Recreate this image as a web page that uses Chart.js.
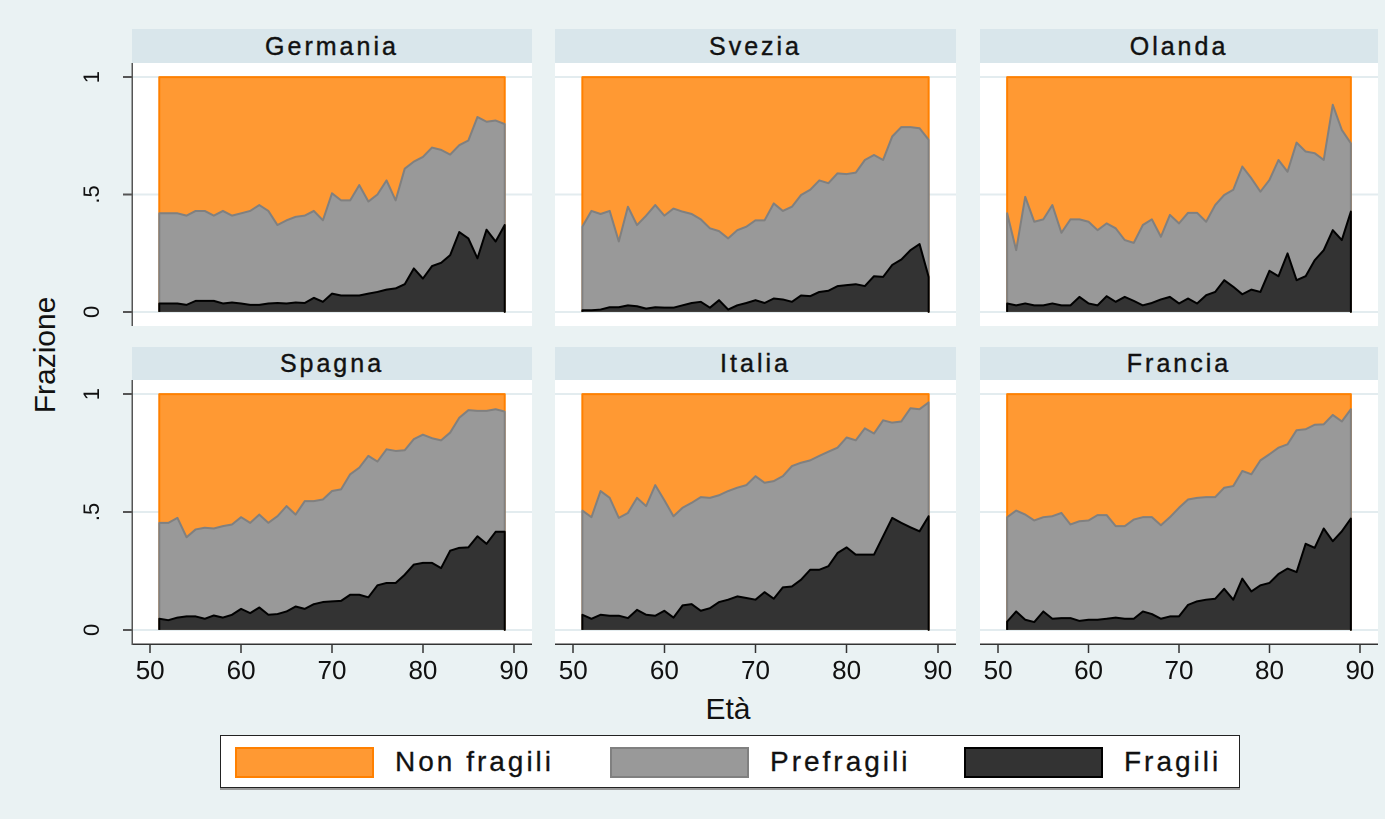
<!DOCTYPE html>
<html>
<head>
<meta charset="utf-8">
<script src="https://cdn.jsdelivr.net/npm/chart.js@4.4.1/dist/chart.umd.min.js"></script>
<style>
  body { margin: 0; background: #eaf2f3; font-family: "Liberation Sans", Arial, sans-serif; }
  #pagina { position: relative; width: 1385px; height: 819px; overflow: hidden; background: #eaf2f3; }
  .striscia { position: absolute; background: #d9e6eb; color: #111; font-size: 25px; letter-spacing: 3px;
              -webkit-text-stroke: 0.4px #111;
              display: flex; align-items: center; justify-content: center; }
  canvas { position: absolute; }
  #titoloY { position: absolute; left: 45px; top: 355px; font-size: 30px; color: #111;
             transform: translate(-50%, -50%) rotate(-90deg); white-space: nowrap; }
  #titoloX { position: absolute; left: 728px; top: 709px; font-size: 30px; color: #111;
             transform: translate(-50%, -50%); white-space: nowrap; }
  #legenda { position: absolute; left: 220px; top: 735px; width: 1020px; height: 53px; background: #fff;
             border: 1px solid #222; box-shadow: 0 2px 0 #999; box-sizing: border-box; }
  .voce { position: absolute; top: 10px; display: flex; align-items: center; }
  .campione { width: 139px; height: 31px; box-sizing: border-box; border: 2px solid; }
  .etichetta { margin-left: 21px; font-size: 28px; letter-spacing: 3px; color: #111; -webkit-text-stroke: 0.3px #111; }
</style>
</head>
<body>
<div id="pagina">
  <div id="titoloY">Frazione</div>
  <div id="titoloX">Età</div>
  <div id="legenda">
    <div class="voce" style="left:14px"><div class="campione" style="background:#ff9933;border-color:#ff8000"></div><span class="etichetta">Non fragili</span></div>
    <div class="voce" style="left:389px"><div class="campione" style="background:#999999;border-color:#808080"></div><span class="etichetta">Prefragili</span></div>
    <div class="voce" style="left:743px"><div class="campione" style="background:#333333;border-color:#000"></div><span class="etichetta">Fragili</span></div>
  </div>
</div>
<script>
// eta 51-89, quote cumulate
var eta = [51,52,53,54,55,56,57,58,59,60,61,62,63,64,65,66,67,68,69,70,71,72,73,74,75,76,77,78,79,80,81,82,83,84,85,86,87,88,89];
var xTicks = [50, 60, 70, 80, 90];
var yTicks = [0, 0.5, 1];
var yTickLabels = ['0', '.5', '1'];
var paesi = ['Germania', 'Svezia', 'Olanda', 'Spagna', 'Italia', 'Francia'];

// fragili (area scura)
var germaniaFragili = [0.036,0.036,0.036,0.03,0.047,0.047,0.047,0.036,0.04,0.036,
  0.03,0.03,0.036,0.038,0.036,0.04,0.038,0.06,0.043,0.078,
  0.07,0.07,0.07,0.078,0.085,0.095,0.10,0.118,0.185,0.142,
  0.195,0.209,0.242,0.34,0.313,0.228,0.35,0.30,0.37];
var sveziaFragili = [0.007,0.007,0.01,0.02,0.02,0.028,0.024,0.014,0.02,0.018,
  0.018,0.028,0.038,0.043,0.018,0.05,0.01,0.028,0.038,0.05,
  0.038,0.057,0.053,0.043,0.07,0.067,0.085,0.09,0.11,0.114,
  0.118,0.11,0.152,0.149,0.2,0.223,0.263,0.289,0.149];
var olandaFragili = [0.036,0.028,0.036,0.028,0.028,0.036,0.028,0.028,0.064,0.036,
  0.028,0.067,0.043,0.064,0.047,0.028,0.038,0.053,0.064,0.036,
  0.057,0.036,0.071,0.085,0.135,0.107,0.075,0.095,0.085,0.175,
  0.152,0.249,0.135,0.152,0.22,0.263,0.348,0.306,0.427];
var spagnaFragili = [0.047,0.041,0.052,0.057,0.057,0.047,0.061,0.052,0.064,0.089,
  0.071,0.095,0.064,0.067,0.078,0.099,0.089,0.109,0.118,0.121,
  0.123,0.149,0.149,0.138,0.189,0.199,0.199,0.234,0.277,0.284,
  0.284,0.262,0.336,0.348,0.35,0.397,0.365,0.416,0.416];
var italiaFragili = [0.064,0.047,0.064,0.06,0.06,0.05,0.085,0.064,0.06,0.081,
  0.052,0.104,0.109,0.081,0.092,0.118,0.128,0.142,0.135,0.128,
  0.16,0.132,0.18,0.184,0.213,0.255,0.255,0.27,0.326,0.35,
  0.319,0.319,0.319,0.397,0.475,0.454,0.435,0.418,0.482];
var franciaFragili = [0.035,0.078,0.043,0.033,0.078,0.047,0.05,0.05,0.038,0.043,
  0.043,0.047,0.052,0.047,0.047,0.078,0.067,0.047,0.057,0.057,
  0.106,0.121,0.128,0.132,0.174,0.128,0.217,0.163,0.189,0.199,
  0.237,0.26,0.245,0.365,0.348,0.43,0.376,0.418,0.472];

// fragili + prefragili (bordo superiore dell'area grigia)
var germaniaPrefragili = [0.42,0.42,0.42,0.41,0.43,0.43,0.41,0.43,0.41,0.42,
  0.43,0.455,0.43,0.37,0.39,0.405,0.41,0.43,0.39,0.505,
  0.475,0.475,0.54,0.47,0.50,0.56,0.475,0.61,0.64,0.66,
  0.70,0.69,0.67,0.71,0.73,0.83,0.81,0.815,0.80];
var sveziaPrefragili = [0.363,0.43,0.417,0.43,0.30,0.448,0.37,0.41,0.455,0.41,
  0.44,0.427,0.417,0.394,0.356,0.344,0.313,0.348,0.363,0.39,
  0.39,0.462,0.43,0.448,0.498,0.52,0.56,0.548,0.59,0.587,
  0.593,0.647,0.668,0.647,0.747,0.787,0.787,0.782,0.733];
var olandaPrefragili = [0.42,0.263,0.49,0.384,0.394,0.455,0.337,0.394,0.394,0.384,
  0.348,0.377,0.356,0.306,0.294,0.37,0.394,0.32,0.413,0.377,
  0.422,0.422,0.384,0.455,0.498,0.52,0.619,0.569,0.512,0.562,
  0.647,0.597,0.721,0.683,0.676,0.647,0.882,0.775,0.718];
var spagnaPrefragili = [0.454,0.454,0.475,0.393,0.426,0.433,0.43,0.44,0.447,0.478,
  0.454,0.489,0.454,0.482,0.525,0.489,0.546,0.546,0.553,0.589,
  0.596,0.66,0.688,0.738,0.714,0.766,0.759,0.762,0.809,0.828,
  0.813,0.804,0.837,0.90,0.932,0.929,0.929,0.936,0.926];
var italiaPrefragili = [0.506,0.478,0.589,0.56,0.475,0.496,0.56,0.525,0.614,0.55,
  0.482,0.518,0.539,0.563,0.56,0.571,0.589,0.603,0.614,0.652,
  0.624,0.631,0.652,0.695,0.709,0.719,0.738,0.756,0.773,0.816,
  0.804,0.855,0.833,0.889,0.879,0.884,0.94,0.936,0.965];
var franciaPrefragili = [0.478,0.506,0.489,0.464,0.478,0.482,0.496,0.447,0.461,0.464,
  0.487,0.487,0.44,0.44,0.468,0.478,0.478,0.444,0.478,0.518,
  0.553,0.56,0.563,0.563,0.603,0.61,0.674,0.66,0.719,0.745,
  0.773,0.787,0.847,0.851,0.87,0.872,0.912,0.884,0.936];

var fragili = [germaniaFragili, sveziaFragili, olandaFragili, spagnaFragili, italiaFragili, franciaFragili];
var prefragili = [germaniaPrefragili, sveziaPrefragili, olandaPrefragili, spagnaPrefragili, italiaPrefragili, franciaPrefragili];
// le tre quote sommano a 1
var totale = eta.map(function () { return 1; });

var colLeft = [132, 555, 980];
var colWidth = [400, 401, 398];
var stripTop = [29, 347];
var whiteTop = [63, 380];
var whiteH = [263, 264];
var FONT = '"Liberation Sans", Arial, sans-serif';

// area: parte da 0, segue i valori, torna a 0 (bordi laterali come in Stata)
function area(vals) {
    var pts = [{x: eta[0], y: 0}];
    for (var i = 0; i < eta.length; i++) {
        pts.push({x: eta[i], y: vals[i]});
    }
    pts.push({x: eta[eta.length - 1], y: 0});
    return pts;
}

var sfondoBianco = {
    id: 'sfondoBianco',
    beforeDraw: function (chart) {
        var a = chart.chartArea;
        chart.ctx.save();
        chart.ctx.fillStyle = '#ffffff';
        chart.ctx.fillRect(a.left, a.top, a.right - a.left, a.bottom - a.top);
        chart.ctx.restore();
    }
};

var etichetteY = {
    id: 'etichetteY',
    afterDraw: function (chart) {
        var ctx = chart.ctx, y = chart.scales.y;
        ctx.save();
        ctx.font = '22px ' + FONT;
        ctx.fillStyle = '#111';
        ctx.textAlign = 'center';
        ctx.textBaseline = 'middle';
        for (var k = 0; k < yTicks.length; k++) {
            ctx.save();
            ctx.translate(chart.chartArea.left - 39, y.getPixelForValue(yTicks[k]));
            ctx.rotate(-Math.PI / 2);
            ctx.fillText(yTickLabels[k], 0, 0);
            ctx.restore();
        }
        ctx.restore();
    }
};

var pagina = document.getElementById('pagina');

for (var p = 0; p < paesi.length; p++) {
    var col = p % 3, row = Math.floor(p / 3);
    var isLeft = col === 0, isBottom = row === 1;
    var padL = isLeft ? 60 : 0, padB = isBottom ? 45 : 0;

    var s = document.createElement('div');
    s.className = 'striscia';
    s.style.left = colLeft[col] + 'px';
    s.style.top = stripTop[row] + 'px';
    s.style.width = colWidth[col] + 'px';
    s.style.height = (whiteTop[row] - stripTop[row]) + 'px';
    s.textContent = paesi[p];
    pagina.appendChild(s);

    var cv = document.createElement('canvas');
    var w = colWidth[col] + padL, h = whiteH[row] + padB;
    cv.width = w; cv.height = h;
    cv.style.width = w + 'px'; cv.style.height = h + 'px';
    cv.style.left = (colLeft[col] - padL) + 'px';
    cv.style.top = whiteTop[row] + 'px';
    pagina.appendChild(cv);

    new Chart(cv, {
        type: 'line',
        data: {
            datasets: [{
                label: 'Fragili',
                data: area(fragili[p]),
                backgroundColor: '#333333',
                borderColor: '#000000',
                borderWidth: 2,
                fill: 'origin'
            }, {
                label: 'Prefragili',
                data: area(prefragili[p]),
                backgroundColor: '#999999',
                borderColor: '#808080',
                borderWidth: 2,
                fill: 'origin'
            }, {
                label: 'Non fragili',
                data: area(totale),
                backgroundColor: '#ff9933',
                borderColor: '#ff8000',
                borderWidth: 2,
                fill: 'origin'
            }]
        },
        options: {
            responsive: false,
            animation: false,
            events: [],
            devicePixelRatio: 2,
            layout: {padding: 0},
            elements: {point: {radius: 0}, line: {tension: 0, borderJoinStyle: 'round'}},
            plugins: {legend: {display: false}, tooltip: {enabled: false}},
            scales: {
                x: {
                    type: 'linear',
                    min: 48,
                    max: 92,
                    display: isBottom,
                    afterBuildTicks: function (sc) { sc.ticks = xTicks.map(function (v) { return {value: v}; }); },
                    afterFit: (function (hh) { return function (sc) { sc.height = hh; }; })(padB),
                    grid: {drawOnChartArea: false, tickLength: 9, tickColor: '#333', tickWidth: 1.5},
                    border: {color: '#333', width: 1.5},
                    ticks: {font: {size: 26, family: FONT}, color: '#111', padding: 3, maxRotation: 0, autoSkip: false}
                },
                y: {
                    type: 'linear',
                    min: -0.06,
                    max: 1.06,
                    afterBuildTicks: function (sc) { sc.ticks = yTicks.map(function (v) { return {value: v}; }); },
                    afterFit: (function (ww) { return function (sc) { sc.width = ww; }; })(padL),
                    grid: {color: '#e3ecef', lineWidth: 2, tickLength: 9, tickColor: '#555', drawTicks: isLeft},
                    border: {display: isLeft, color: '#555', width: 1.5},
                    ticks: {display: false}
                }
            }
        },
        plugins: isLeft ? [sfondoBianco, etichetteY] : [sfondoBianco]
    });
}
</script>
</body>
</html>
